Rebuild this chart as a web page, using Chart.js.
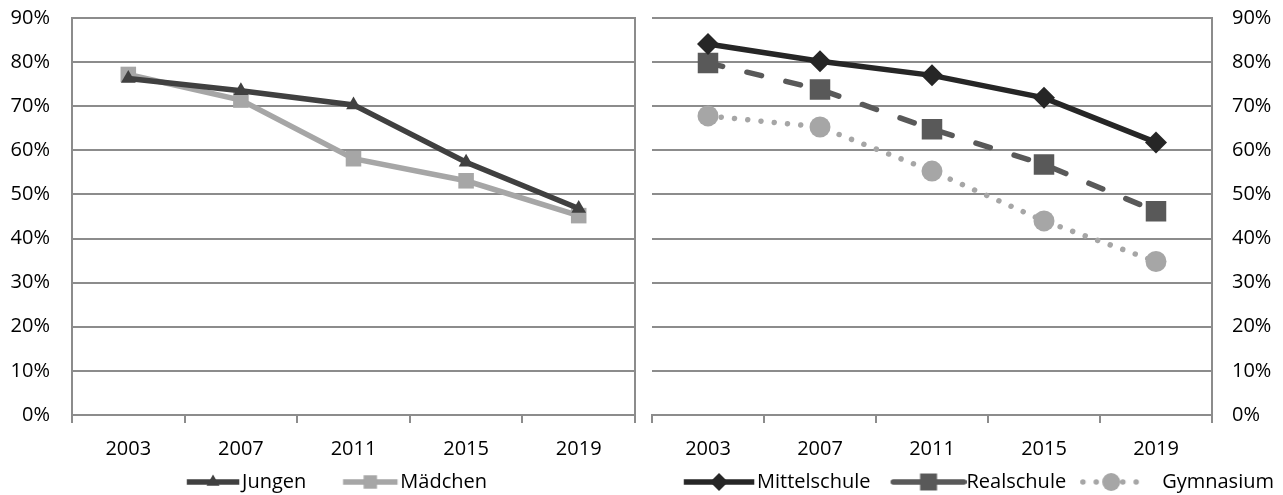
<!DOCTYPE html>
<html>
<head>
<meta charset="utf-8">
<script src="https://cdn.jsdelivr.net/npm/chart.js@4.4.1/dist/chart.umd.min.js"></script>
<style>
    html, body { margin: 0; padding: 0; background: #fff; }
    #wrap { display: flex; width: 1283px; height: 495px; }
    .box { position: relative; height: 495px; }
</style>
</head>
<body>
<div id="wrap">
    <div class="box" style="width:642px"><canvas id="leftChart"></canvas></div>
    <div class="box" style="width:641px"><canvas id="rightChart"></canvas></div>
</div>
<script>
const years = ['2003', '2007', '2011', '2015', '2019'];

// left panel: by gender
const jungen = [76.3, 73.5, 70.3, 57.3, 46.8];
const maedchen = [77.2, 71.4, 58.1, 53.1, 45.2];

// right panel: by school type
const mittelschule = [84.1, 80.2, 77.0, 71.9, 61.8];
const realschule = [79.8, 73.8, 64.8, 56.8, 46.2];
const gymnasium = [67.8, 65.3, 55.3, 44.0, 34.8];

const FONT = { family: "'Open Sans', 'Liberation Sans', sans-serif", size: 20 };
const GRID = '#8c8c8c';
const TEXT_GAP = 0;
const E = FONT.size / 2 - TEXT_GAP;

// legend symbol: [pad][line with marker][tail], all symbols of one chart share the width
function legendSymbol(ds, w) {
    const lg = ds.legend;
    const pad = w - lg.len - lg.tail, h = 26;
    const c = document.createElement('canvas');
    c.width = w; c.height = h;
    const ctx = c.getContext('2d');
    ctx.strokeStyle = ds.borderColor;
    ctx.lineWidth = ds.borderWidth;
    ctx.lineCap = ds.borderCapStyle || 'butt';
    ctx.setLineDash(lg.dash || []);
    ctx.beginPath();
    ctx.moveTo(pad + ds.borderWidth / 2, h / 2);
    ctx.lineTo(pad + lg.len - ds.borderWidth / 2, h / 2);
    ctx.stroke();
    ctx.setLineDash([]);
    ctx.fillStyle = ds.pointBackgroundColor;
    Chart.helpers.drawPoint(ctx, { pointStyle: ds.pointStyle, radius: lg.r, rotation: 0, borderWidth: 0 }, pad + lg.len / 2, h / 2);
    return c;
}

function makeChart(id, datasets, side, symbolWidth) {
    const isLeft = side === 'left';
    const scales = {
        x: {
            offset: true,
            grid: { offset: true, drawOnChartArea: false, drawTicks: true, tickLength: 8, color: GRID, lineWidth: 2 },
            border: { color: GRID, width: 2 },
            ticks: { color: '#000', font: FONT, padding: 14, maxRotation: 0 },
            afterFit: s => { s.height = 57; }
        },
        y: {
            position: isLeft ? 'left' : 'right',
            min: 0,
            max: 90,
            grid: { drawTicks: false, color: GRID, lineWidth: 2 },
            border: { color: GRID, width: 2 },
            ticks: { stepSize: 10, color: '#000', font: FONT, padding: isLeft ? 22 : 20, callback: v => v + '%' },
            afterFit: s => {
                s.width = isLeft ? 72 : 71;
                // keep the tick padding from pushing the plot area down
                s.paddingTop = 0;
                s.paddingBottom = 0;
            }
        }
    };
    if (isLeft) {
        scales.y2 = {
            position: 'right',
            min: 0,
            max: 90,
            grid: { drawOnChartArea: false, drawTicks: false },
            border: { color: GRID, width: 2 },
            ticks: { display: false },
            afterFit: s => { s.width = 0; s.paddingTop = 0; s.paddingBottom = 0; }
        };
    }

    datasets.forEach(ds => {
        ds.tension = 0;
        ds.pointHoverRadius = ds.pointRadius;
        ds.pointBorderWidth = 0;
        ds.pointBorderColor = ds.pointBackgroundColor;
    });

    return new Chart(document.getElementById(id).getContext('2d'), {
        type: 'line',
        data: { labels: years, datasets: datasets },
        options: {
            responsive: true,
            maintainAspectRatio: false,
            animation: false,
            layout: {
                autoPadding: false,
                padding: isLeft ? { top: 18, right: 7, left: 0, bottom: -7 } : { top: 18, right: 0, left: 10, bottom: -7 }
            },
            plugins: {
                tooltip: { enabled: false },
                legend: {
                    position: 'bottom',
                    labels: {
                        usePointStyle: true,
                        // box narrower than the symbol so the text sits close to the line
                        pointStyleWidth: symbolWidth - 2 * E,
                        font: FONT,
                        color: '#000',
                        padding: 0,
                        generateLabels: chart => chart.data.datasets.map((ds, i) => ({
                            text: ds.label,
                            pointStyle: legendSymbol(ds, symbolWidth),
                            fontColor: '#000',
                            hidden: false,
                            datasetIndex: i,
                            lineWidth: 0
                        }))
                    }
                }
            },
            scales: scales
        }
    });
}

makeChart('leftChart', [
    {
        label: 'Jungen', data: jungen,
        borderColor: '#404040', borderWidth: 5.5,
        pointStyle: 'triangle', pointRadius: 8.5, pointBackgroundColor: '#404040',
        legend: { len: 58, tail: 0, r: 7.5 }
    },
    {
        label: 'Mädchen', data: maedchen,
        borderColor: '#a6a6a6', borderWidth: 5.5,
        pointStyle: 'rect', pointRadius: 11, pointBackgroundColor: '#a6a6a6',
        legend: { len: 60, tail: 0, r: 9.5 }
    }
], 'left', 104);

makeChart('rightChart', [
    {
        label: 'Mittelschule', data: mittelschule,
        borderColor: '#262626', borderWidth: 5.5,
        pointStyle: 'rectRot', pointRadius: 11, pointBackgroundColor: '#262626',
        legend: { len: 76, tail: 0, r: 9 }
    },
    {
        label: 'Realschule', data: realschule,
        borderColor: '#595959', borderWidth: 5.5, borderDash: [15, 25], borderCapStyle: 'round',
        pointStyle: 'rect', pointRadius: 14.5, pointBackgroundColor: '#595959',
        legend: { len: 76, tail: 0, r: 12 }
    },
    {
        label: 'Gymnasium', data: gymnasium,
        borderColor: '#a6a6a6', borderWidth: 5.5, borderDash: [0.01, 13.3], borderCapStyle: 'round',
        pointStyle: 'circle', pointRadius: 10.5, pointBackgroundColor: '#a6a6a6',
        legend: { len: 62, tail: 20, r: 9, dash: [0.01, 13.3] }
    }
], 'right', 106);
</script>
</body>
</html>
